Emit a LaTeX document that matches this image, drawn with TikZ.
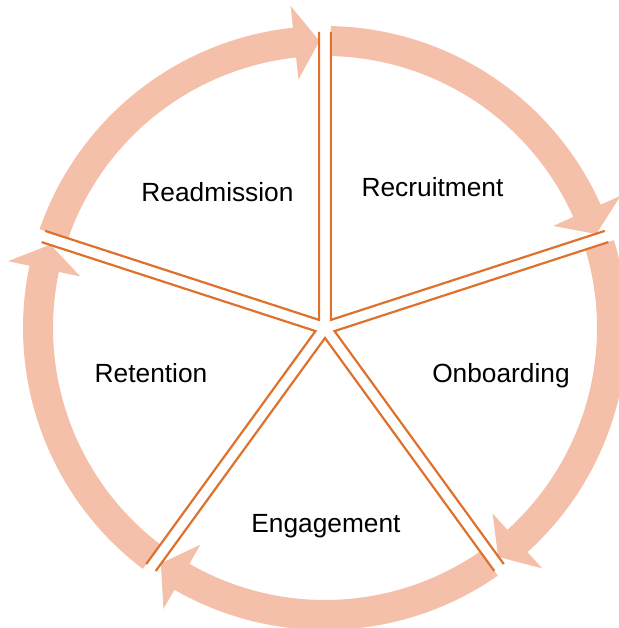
\documentclass[tikz,border=0pt]{standalone}
\usepackage{fontspec}
\setmainfont{Liberation Sans}
\usepackage{tikz}
\usetikzlibrary{calc}
\definecolor{ringpink}{RGB}{245,192,170}
\definecolor{spokeorange}{RGB}{222,114,44}

\begin{document}
\begin{tikzpicture}[x=1pt,y=1pt,
			arrowband/.style={fill=ringpink,draw=none},
			spoke/.style={draw=spokeorange,line width=2.2pt,line join=miter},
			stagelabel/.style={anchor=base,inner sep=0pt,font=\fontsize{26.3}{31}\selectfont}]
			\useasboundingbox (0,0) rectangle (618,628);
			\coordinate (c) at (325,300);
			% curved arrows round the ring
			\foreach \s in {90,18,-54,-126,-198} {
				\pgfmathsetmacro{\t}{\s-1.1}
				\pgfmathsetmacro{\p}{\s-72+1.1}
				\pgfmathsetmacro{\q}{\p+5}
				\fill [arrowband] ($(c)+(\t:302)$) arc [start angle=\t, end angle=\q, radius=302]
					-- ($(c)+(\q:324)$) -- ($(c)+(\p:287)$) -- ($(c)+(\q:250)$) -- ($(c)+(\q:272)$)
					arc [start angle=\q, end angle=\t, radius=272] -- cycle;
			}
			% the five wedges, pulled apart
			\foreach \s in {90,18,-54,-126,-198} {
				\pgfmathsetmacro{\b}{\s-36}
				\pgfmathsetmacro{\e}{\s-72}
				\coordinate (a) at ($(c)+(\b:10)$);
				\draw [spoke] ($(a)+(\s:288)$) -- (a) -- ($(a)+(\e:288)$);
			}
			\node [stagelabel] (readmission) at (217.5,426) {Readmission};
			\node [stagelabel] (recruitment) at (432.5,431) {Recruitment};
			\node [stagelabel] (onboarding) at (501,245) {Onboarding};
			\node [stagelabel] (engagement) at (326,95) {Engagement};
			\node [stagelabel] (retention) at (151,245) {Retention};
\end{tikzpicture}
\end{document}
